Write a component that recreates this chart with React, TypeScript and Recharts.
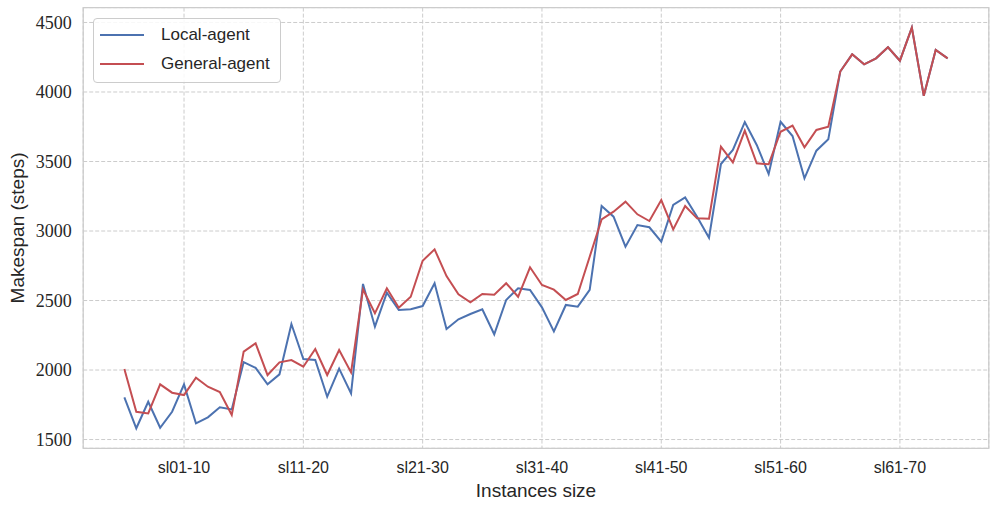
import React from "react"
import {
  LineChart,
  Line,
  XAxis,
  YAxis,
  CartesianGrid,
  Legend,
  ReferenceArea,
} from "recharts"

// makespan per instance
const localAgent = [
  1804, 1581, 1772, 1585, 1700, 1897, 1616, 1660, 1732, 1717,
  2057, 2016, 1897, 1969, 2331, 2079, 2072, 1808, 2010, 1832,
  2619, 2312, 2556, 2432, 2437, 2460, 2624, 2295, 2365, 2403,
  2437, 2257, 2504, 2588, 2576, 2451, 2278, 2468, 2456, 2576,
  3180, 3103, 2887, 3043, 3027, 2923, 3187, 3242, 3103, 2952,
  3482, 3583, 3784, 3619, 3410, 3786, 3683, 3379, 3578, 3660,
  4147, 4271, 4199, 4242, 4322, 4225, 4463, 3973, 4302, 4242,
]

const generalAgent = [
  2007, 1700, 1688, 1897, 1837, 1820, 1945, 1880, 1842, 1676,
  2132, 2192, 1964, 2055, 2072, 2024, 2151, 1964, 2144, 1983,
  2580, 2408, 2588, 2448, 2527, 2786, 2868, 2676, 2545, 2487,
  2547, 2542, 2624, 2527, 2739, 2612, 2578, 2504, 2547, 2815,
  3084, 3139, 3211, 3120, 3072, 3223, 3012, 3180, 3091, 3088,
  3607, 3494, 3722, 3487, 3480, 3714, 3758, 3602, 3727, 3750,
  4147, 4271, 4199, 4242, 4322, 4225, 4463, 3973, 4302, 4242,
]

const seriesNames = ["Local-agent", "General-agent"]
const sizeTicks = [5, 15, 25, 35, 45, 55, 65]
const sizeLabels = ["sl01-10", "sl11-20", "sl21-30", "sl31-40", "sl41-50", "sl51-60", "sl61-70"]
const makespanTicks = [1500, 2000, 2500, 3000, 3500, 4000, 4500]

const data = localAgent.map((v, i) => ({ idx: i, local: v, general: generalAgent[i] }))

const X_DOMAIN: [number, number] = [-3.45, 72.45]
const Y_DOMAIN: [number, number] = [1437, 4607]

const SANS = "Liberation Sans, Arial, sans-serif"
const SERIF = "Liberation Serif, Times New Roman, serif"
const TEXT = "#262626"

const LegendBox = (props: any) => {
  const items = [...(props.payload || [])].sort(
    (a: any, b: any) => seriesNames.indexOf(a.value) - seriesNames.indexOf(b.value)
  )
  return (
    <div
      style={{
        position: "relative",
        width: 186,
        height: 63,
        border: "1px solid #cccccc",
        borderRadius: 4,
        background: "rgba(255,255,255,0.85)",
        fontFamily: SANS,
        fontSize: 17,
        color: TEXT,
      }}>
      {items.map((it: any, k: number) => (
        <div
          key={it.value}
          style={{
            position: "absolute",
            left: 6,
            top: 5 + k * 29,
            height: 22,
            display: "flex",
            alignItems: "center",
            whiteSpace: "nowrap",
          }}>
          <span style={{ display: "inline-block", width: 44, height: 2, background: it.color }} />
          <span style={{ marginLeft: 17 }}>{it.value}</span>
        </div>
      ))}
    </div>
  )
}

const YTick = (props: any) => {
  const { x, y, payload } = props
  return (
    <text
      x={x}
      y={y}
      dy='0.35em'
      textAnchor='end'
      fill={TEXT}
      style={{ fontFamily: SERIF, fontSize: 18 }}>
      {payload.value}
    </text>
  )
}

export default function App() {
  return (
    <div style={{ position: "absolute", left: 0, top: 0, background: "#fff" }}>
      <LineChart
        width={997}
        height={510}
        data={data}
        margin={{ top: 7.6, right: 8.2, left: 0, bottom: 0 }}>
        <CartesianGrid stroke='#cccccc' strokeDasharray='4 2' strokeWidth={1} />
        <XAxis
          dataKey='idx'
          type='number'
          domain={X_DOMAIN}
          ticks={sizeTicks}
          tickFormatter={(v: number) => sizeLabels[sizeTicks.indexOf(v)] ?? ""}
          height={61.7}
          tickLine={false}
          axisLine={false}
          tickSize={0}
          tickMargin={13.6}
          interval={0}
          tick={{ fill: TEXT, fontSize: 16, fontFamily: SANS }}
          label={{
            value: "Instances size",
            position: "insideBottom",
            offset: 13.3,
            fill: TEXT,
            fontSize: 19,
            fontFamily: SANS,
          }}
        />
        <YAxis
          type='number'
          domain={Y_DOMAIN}
          ticks={makespanTicks}
          width={83.2}
          tickLine={false}
          axisLine={false}
          tickSize={0}
          tickMargin={11.5}
          interval={0}
          tick={YTick}
          label={{
            value: "Makespan (steps)",
            angle: -90,
            position: "insideLeft",
            offset: 17.5,
            fill: TEXT,
            fontSize: 19,
            fontFamily: SANS,
            style: { textAnchor: "middle" },
          }}
        />
        <ReferenceArea
          x1={X_DOMAIN[0]}
          x2={X_DOMAIN[1]}
          y1={Y_DOMAIN[0]}
          y2={Y_DOMAIN[1]}
          fill='none'
          stroke='#cccccc'
          strokeWidth={1.25}
          ifOverflow='visible'
        />
        <Legend
          layout='horizontal'
          align='center'
          verticalAlign='middle'
          wrapperStyle={{ top: 18, left: 93, width: "auto", height: "auto" }}
          content={LegendBox}
        />
        <Line
          name={seriesNames[0]}
          dataKey='local'
          type='linear'
          stroke='#4C72B0'
          strokeWidth={2}
          dot={false}
          activeDot={false}
          isAnimationActive={false}
        />
        <Line
          name={seriesNames[1]}
          dataKey='general'
          type='linear'
          stroke='#C44E52'
          strokeWidth={2}
          dot={false}
          activeDot={false}
          isAnimationActive={false}
        />
      </LineChart>
    </div>
  )
}
